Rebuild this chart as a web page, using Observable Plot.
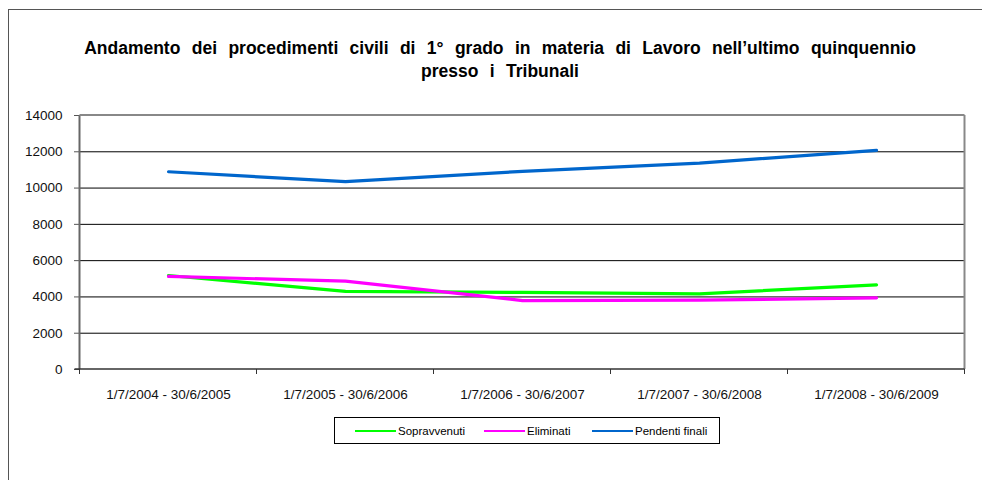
<!DOCTYPE html>
<html>
<head>
<meta charset="utf-8">
<script src="https://cdn.jsdelivr.net/npm/d3@7"></script>
<script src="https://cdn.jsdelivr.net/npm/@observablehq/plot@0.6"></script>
<style>
  html, body { margin: 0; padding: 0; background: #fff; }
  #wrap { position: relative; width: 982px; height: 480px; overflow: hidden; font-family: "Liberation Sans", Arial, sans-serif; }
  #frame { position: absolute; left: 8px; top: 9px; width: 1000px; height: 500px; border-left: 1.5px solid #555; border-top: 1.5px solid #555; }
  #title { position: absolute; left: 0; top: 37px; width: 1000px; text-align: center; font-weight: bold; font-size: 17.5px; line-height: 23px; word-spacing: 6.5px; color: #000; }
  #chart { position: absolute; left: 0; top: 0; }
  #legend { position: absolute; left: 334px; top: 417px; width: 386px; height: 27px; border: 1px solid #000; box-sizing: border-box; font-size: 11.5px; color: #000; }
  .item { display: flex; align-items: center; position: absolute; top: 0; height: 25px; }
  .sw { display: inline-block; width: 41px; height: 2px; margin-right: 2px; }
</style>
</head>
<body>
<div id="wrap">
  <div id="frame"></div>
  <div id="title">Andamento dei procedimenti civili di 1° grado in materia di Lavoro nell’ultimo quinquennio<br>presso i Tribunali</div>
  <div id="chart"></div>
  <div id="legend"></div>
</div>
<script>
const periods = ["1/7/2004 - 30/6/2005", "1/7/2005 - 30/6/2006", "1/7/2006 - 30/6/2007", "1/7/2007 - 30/6/2008", "1/7/2008 - 30/6/2009"];
const sopravvenuti = [5180, 4310, 4250, 4170, 4660];
const eliminati = [5130, 4870, 3800, 3820, 3950];
const pendentiFinali = [10900, 10350, 10920, 11380, 12080];
const seriesNames = ["Sopravvenuti", "Eliminati", "Pendenti finali"];
const seriesColors = ["#00ff00", "#ff00ff", "#0066cc"];
const yTicks = [0, 2000, 4000, 6000, 8000, 10000, 12000, 14000];

const allSeries = [sopravvenuti, eliminati, pendentiFinali];
const rows = [];
allSeries.forEach((vals, s) => vals.forEach((v, i) => rows.push({period: periods[i], value: v, series: seriesNames[s]})));

const chart = Plot.plot({
  width: 982,
  height: 480,
  marginTop: 115,
  marginBottom: 111,
  marginLeft: 79,
  marginRight: 17,
  style: {fontFamily: "'Liberation Sans', Arial, sans-serif", background: "transparent"},
  x: {type: "point", domain: periods, padding: 0.5, label: null},
  y: {domain: [0, 14000], label: null},
  color: {domain: seriesNames, range: seriesColors},
  marks: [
    Plot.ruleY(yTicks.slice(1), {stroke: "#000", strokeWidth: 1}),
    Plot.line(rows, {x: "period", y: "value", z: "series", stroke: "series", strokeWidth: 3.2, curve: "linear", strokeLinecap: "round", strokeLinejoin: "round"}),
    Plot.axisY(yTicks, {tickSize: 5, tickPadding: 12, fontSize: 13.5, stroke: "#555", color: "#111", tickFormat: d => String(d)}),
    Plot.axisX(periods, {tickSize: 0, tickPadding: 20, fontSize: 13.5, color: "#111"}),
  ]
});
document.getElementById("chart").appendChild(chart);

// plot-area frame and x ticks at category boundaries, positioned from the scales
const xs = chart.scale("x"), ys = chart.scale("y");
const step = (xs.apply(periods[1]) - xs.apply(periods[0]));
const xLeft = xs.apply(periods[0]) - step / 2;
const xRight = xs.apply(periods[periods.length - 1]) + step / 2;
const yTop = ys.apply(14000), yBottom = ys.apply(0);
const svg = d3.select(chart);
const g = svg.append("g");
g.append("line").attr("x1", xLeft).attr("x2", xLeft).attr("y1", yTop).attr("y2", yBottom).attr("stroke", "#666").attr("stroke-width", 2);
g.append("line").attr("x1", xRight).attr("x2", xRight).attr("y1", yTop).attr("y2", yBottom).attr("stroke", "#888").attr("stroke-width", 2);
g.append("line").attr("x1", xLeft).attr("x2", xRight).attr("y1", yTop).attr("y2", yTop).attr("stroke", "#888").attr("stroke-width", 2);
g.append("line").attr("x1", xLeft - 5).attr("x2", xRight).attr("y1", yBottom).attr("y2", yBottom).attr("stroke", "#333").attr("stroke-width", 1.5);
for (let i = 0; i <= periods.length; i++) {
  const x = xLeft + i * step;
  g.append("line").attr("x1", x).attr("x2", x).attr("y1", yBottom).attr("y2", yBottom + 5).attr("stroke", "#333");
}

// legend
const leg = document.getElementById("legend");
const offsets = [20, 149, 257];
seriesNames.forEach((n, i) => {
  const it = document.createElement("div");
  it.className = "item";
  it.style.left = offsets[i] + "px";
  it.innerHTML = `<span class="sw" style="background:${seriesColors[i]}"></span><span>${n}</span>`;
  leg.appendChild(it);
});
</script>
</body>
</html>
